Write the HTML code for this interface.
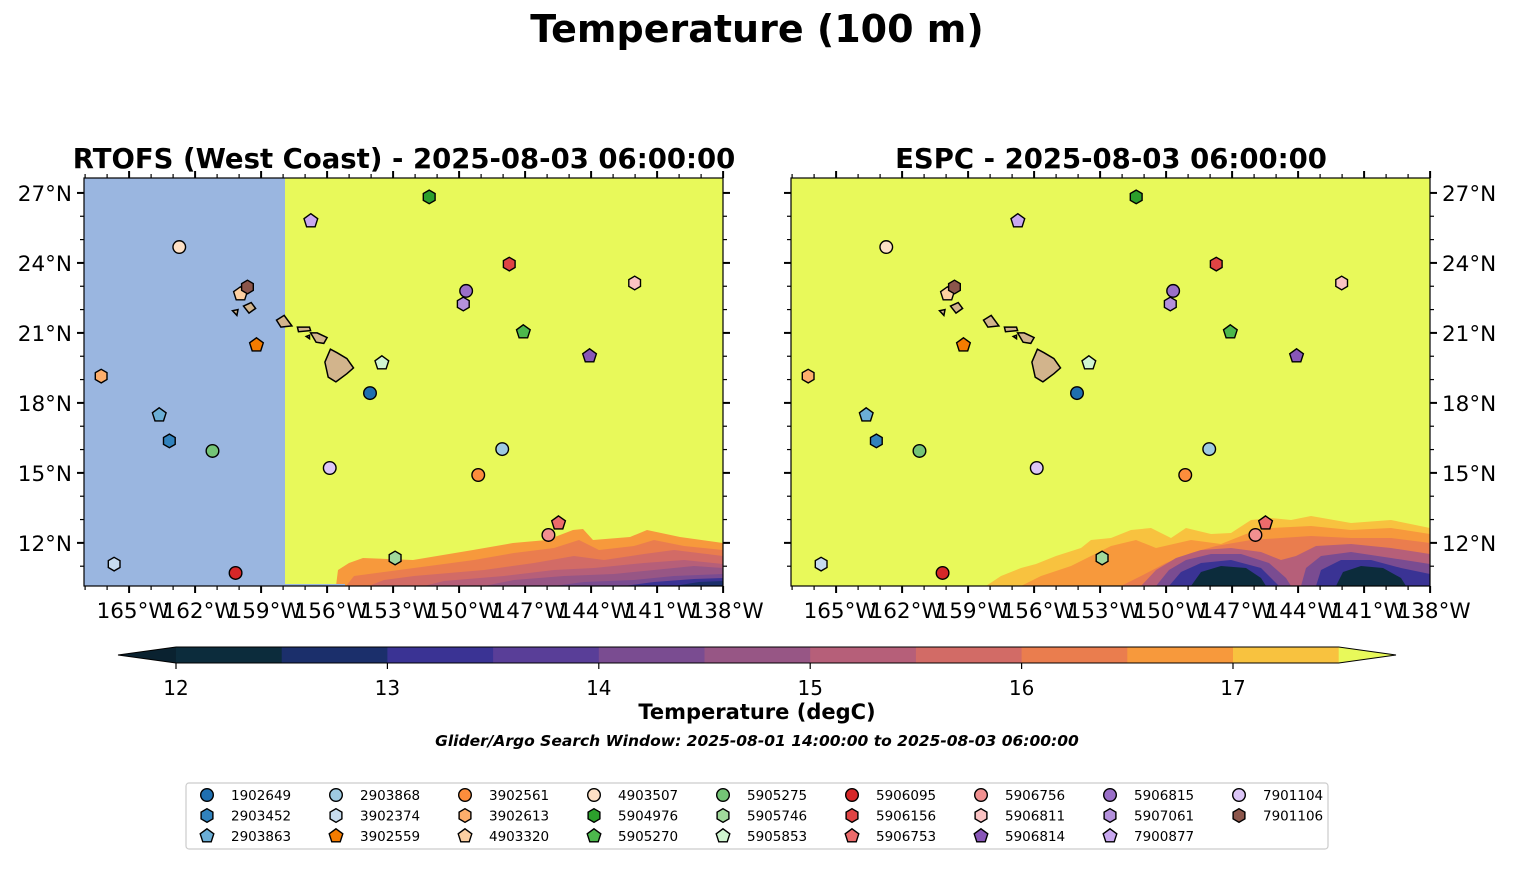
<!DOCTYPE html>
<html><head><meta charset="utf-8"><style>
body{margin:0;background:#fff;}
svg{display:block;font-family:"DejaVu Sans","Liberation Sans",sans-serif;}
</style></head><body>
<svg id="fig" width="1514" height="889" viewBox="0 0 1514 889" xmlns="http://www.w3.org/2000/svg">
<text x="757" y="42" text-anchor="middle" font-size="38" font-weight="bold">Temperature (100 m)</text>
<text x="404" y="168" text-anchor="middle" font-size="27.5" font-weight="bold">RTOFS (West Coast) - 2025-08-03 06:00:00</text>
<text x="1111" y="168" text-anchor="middle" font-size="27.5" font-weight="bold">ESPC - 2025-08-03 06:00:00</text>
<defs>
<clipPath id="clipL"><rect x="84" y="178" width="639" height="408"/></clipPath>
<clipPath id="clipR"><rect x="791" y="178" width="639" height="408"/></clipPath>
</defs>
<g id="mapL"></g>
<g id="mapR"></g>
<g id="cbar"></g>
<text x="757" y="719" text-anchor="middle" font-size="21" font-weight="bold">Temperature (degC)</text>
<text x="757" y="746" text-anchor="middle" font-size="15.5" font-weight="bold" font-style="italic">Glider/Argo Search Window: 2025-08-01 14:00:00 to 2025-08-03 06:00:00</text>
<rect x="186" y="783" width="1142" height="66" rx="3" fill="#fff" stroke="#ccc" stroke-width="1.2"/>
<g id="legend"></g>
</svg>
<script>
// ---- data ----
const floatIds = ["1902649","2903452","2903863","2903868","3902374","3902559","3902561","3902613","4903320","4903507","5904976","5905270","5905275","5905746","5905853","5906095","5906156","5906753","5906756","5906811","5906814","5906815","5907061","7900877","7901104","7901106"];
const floatColors = ["#1f6fb0","#3182bd","#6baed6","#9ecae1","#c6dbef","#f57c00","#fd8d3c","#fdae6b","#fdd0a2","#fde0c5","#2ca02c","#4cb84c","#74c476","#a1d99b","#d0f5d0","#d62728","#e04444","#ec6b6b","#f19090","#fbc3c3","#8856b8","#9a6fc8","#b491dc","#c9a8f0","#dcc6f7","#8c564b"];
const floatMarkers = ["o","h","p","o","h","p","o","h","p","o","h","p","o","h","p","o","h","p","o","h","p","o","h","p","o","h"];
const floatLons = [-154.05,-163.17,-163.63,-148.04,-165.68,-159.21,-149.13,-166.27,-159.94,-162.72,-151.36,-147.08,-161.21,-152.91,-153.51,-160.16,-147.72,-145.48,-145.94,-142.02,-144.07,-149.68,-149.81,-156.74,-155.88,-159.62];
const floatLats = [18.42,16.37,17.48,16.02,11.09,20.48,14.91,19.15,22.67,24.68,26.83,21.04,15.94,11.35,19.71,10.71,23.95,12.85,12.34,23.14,20.01,22.80,22.24,25.80,15.21,22.97];
const lonTicks = [-165,-162,-159,-156,-153,-150,-147,-144,-141,-138];
const latTicks = [12,15,18,21,24,27];
const cbarLevels = [12,12.5,13,13.5,14,14.5,15,15.5,16,16.5,17,17.5];
const cbarTicks = [12,13,14,15,16,17];
const cbarColors = ["#0c2c3c","#1b2f6b","#3a3394","#593e98","#7a4c91","#975685","#b65f79","#d26b66","#ea7d4e","#f7993c","#f8c23f"];
const colorUnder = "#0a2230", colorOver = "#e8f95a";
// ---- geometry ----
const NS="http://www.w3.org/2000/svg";
const LON0=-167.05, PXD=22.0, LAT0=27.64, PYD=23.33, MY=178, MH=408, MW=639;
function mk(tag,attrs,parent){const e=document.createElementNS(NS,tag);for(const k in attrs)e.setAttribute(k,attrs[k]);parent.appendChild(e);return e;}
function xs(ox){return lon=>ox+(lon-LON0)*PXD;}
function ys(lat){return MY+(LAT0-lat)*PYD;}
function fmtLon(l){return Math.abs(l)+"°W";}
function markerPath(type,cx,cy){
  const n=type==="h"?6:5, r=type==="h"?6.8:7.2, pts=[];
  for(let i=0;i<n;i++){const a=-Math.PI/2+i*2*Math.PI/n;pts.push((cx+r*Math.cos(a)).toFixed(1)+","+(cy+r*Math.sin(a)).toFixed(1));}
  return pts.join(" ");
}
function drawMarker(parent,type,cx,cy,color,name){
  let e;
  if(type==="o")e=mk('circle',{cx:cx,cy:cy,r:6.3,fill:color,stroke:"#000","stroke-width":1.4},parent);
  else e=mk('polygon',{points:markerPath(type,cx,cy),fill:color,stroke:"#000","stroke-width":1.4},parent);
  
  
}
const islands=[
 [[-155.85,20.3],[-155.55,20.15],[-155.1,19.9],[-154.8,19.5],[-155.1,19.25],[-155.6,18.9],[-155.95,19.1],[-156.1,19.75],[-155.85,20.3]],
 [[-156.75,21.0],[-156.45,21.0],[-156.0,20.8],[-156.15,20.55],[-156.5,20.6],[-156.75,21.0]],
 [[-157.35,21.25],[-156.8,21.25],[-156.75,21.1],[-157.3,21.05],[-157.35,21.25]],
 [[-158.3,21.55],[-157.95,21.75],[-157.6,21.3],[-158.1,21.25],[-158.3,21.55]],
 [[-159.8,22.15],[-159.45,22.3],[-159.25,22.05],[-159.55,21.85],[-159.8,22.15]],
 [[-160.3,21.95],[-160.05,22.0],[-160.1,21.75],[-160.3,21.95]],
 [[-156.95,20.85],[-156.8,20.9],[-156.8,20.75],[-156.95,20.85]]
];
const contoursL=[
 {c:9,p:"M252,408 L254,392 L265,385 L279,380 L329,382 L389,372 L429,365 L463,362 L489,352 L499,351 L509,362 L546,359 L563,352 L596,359 L639,365 L639,408 Z"},
 {c:8,p:"M262,408 L270,398 L300,394 L330,390 L390,382 L430,375 L470,370 L495,362 L515,372 L550,368 L570,362 L600,368 L639,372 L639,408 Z"},
 {c:7,p:"M285,408 L300,402 L330,398 L400,392 L450,385 L490,378 L520,382 L560,376 L590,372 L639,378 L639,408 Z"},
 {c:6,p:"M340,408 L360,403 L420,398 L470,392 L510,390 L560,385 L600,382 L639,386 L639,408 Z"},
 {c:5,p:"M400,408 L430,402 L480,398 L530,396 L570,392 L610,388 L639,390 L639,408 Z"},
 {c:4,p:"M470,408 L500,404 L550,402 L590,398 L639,396 L639,408 Z"},
 {c:2,p:"M540,408 L570,404 L610,401 L639,400 L639,408 Z"},
 {c:1,p:"M590,408 L615,404 L639,403 L639,408 Z"}
];
const contoursR=[
 {c:10,p:"M195,408 L210,398 L230,390 L245,386 L265,378 L290,370 L300,362 L320,360 L340,352 L360,350 L380,360 L395,350 L420,356 L440,355 L460,342 L480,340 L500,342 L520,338 L560,345 L600,342 L639,350 L639,408 Z"},
 {c:9,p:"M230,408 L250,398 L280,388 L300,378 L320,368 L345,362 L365,370 L400,362 L430,366 L455,356 L480,350 L520,348 L560,352 L600,350 L639,356 L639,408 Z"},
 {c:8,p:"M330,408 L350,398 L375,385 L400,375 L425,368 L460,362 L490,360 L520,358 L560,360 L600,360 L639,365 L639,408 Z"},
 {c:6,p:"M350,408 L365,392 L385,380 L410,372 L440,370 L470,374 L490,382 L505,378 L525,368 L560,366 L600,370 L639,376 L639,408 Z"},
 {c:4,p:"M365,408 L378,392 L395,382 L420,376 L450,376 L478,385 L495,400 L500,408 Z M510,408 L515,390 L530,378 L560,374 L600,380 L639,386 L639,408 Z"},
 {c:2,p:"M378,408 L390,394 L410,385 L440,382 L470,390 L488,408 Z M525,408 L530,392 L550,382 L580,382 L610,390 L639,396 L639,408 Z"},
 {c:0,p:"M400,408 L410,394 L430,388 L455,390 L470,400 L475,408 Z M545,408 L552,394 L570,388 L592,390 L610,400 L615,408 Z"}
];
function drawMap(g,ox,clipId,blue,contours,labelSide){
  const X=xs(ox);
  const inner=mk('g',{'clip-path':`url(#${clipId})`},g);
  const bg=mk('rect',{x:ox,y:MY,width:MW,height:MH,fill:colorOver},inner);
  
  
  const cg=mk('g',{transform:`translate(${ox},${MY})`},inner);
  contours.forEach(c=>{const p=mk('path',{d:c.p,fill:cbarColors[c.c]},cg);
    
    });
  if(blue){const b=mk('rect',{x:ox,y:MY,width:201,height:MH,fill:"#9ab6e0"},inner);
    
    
    mk('rect',{x:ox+201,y:MY+MH-2,width:60,height:2,fill:"#9ab6e0"},inner);}
  islands.forEach(isl=>{const pts=isl.map(p=>X(p[0]).toFixed(1)+","+ys(p[1]).toFixed(1)).join(" ");
    const e=mk('polygon',{points:pts,fill:"#d2b48c",stroke:"#000","stroke-width":1.5},inner);
    
    });
  for(let i=0;i<floatIds.length;i++) drawMarker(inner,floatMarkers[i],X(floatLons[i]),ys(floatLats[i]),floatColors[i],'float-'+floatIds[i]);
  mk('rect',{x:ox,y:MY,width:MW,height:MH,fill:"none",stroke:"#000","stroke-width":1.2},g);
  for(let l=-167;l<=-138;l++){const x=X(l);if(x<ox-0.5||x>ox+MW+0.5)continue;
    const major=lonTicks.includes(l);
    mk('line',{x1:x,y1:MY+MH,x2:x,y2:MY+MH+(major?7:4),stroke:"#000","stroke-width":major?2:1.2},g);
    mk('line',{x1:x,y1:MY,x2:x,y2:MY-(major?7:4),stroke:"#000","stroke-width":major?2:1.2},g);}
  lonTicks.forEach(l=>{const t=mk('text',{x:X(l)+4,y:MY+MH+32,'text-anchor':'middle','font-size':21.5},g);t.textContent=fmtLon(l);
    
    });
  for(let la=11;la<=27;la++){const y=ys(la);const major=latTicks.includes(la);
    mk('line',{x1:ox,y1:y,x2:ox-(major?7:4),y2:y,stroke:"#000","stroke-width":major?2:1.2},g);
    mk('line',{x1:ox+MW,y1:y,x2:ox+MW+(major?7:4),y2:y,stroke:"#000","stroke-width":major?2:1.2},g);}
  latTicks.forEach(la=>{const left=labelSide==="left";
    const t=mk('text',{x:left?ox-12:ox+MW+12,y:ys(la)+8,'text-anchor':left?'end':'start','font-size':21.5},g);t.textContent=la+"°N";
    
    });
}
drawMap(document.getElementById('mapL'),84,'clipL',true,contoursL,'left');
drawMap(document.getElementById('mapR'),791,'clipR',false,contoursR,'right');
// colorbar
const cb=document.getElementById('cbar');
const CB0=176, CBS=211.4, CBY=647, CBH=16;
const cx=v=>CB0+(v-12)*CBS;
mk('polygon',{points:`${CB0},${CBY} ${CB0},${CBY+CBH} 118,${CBY+CBH/2}`,fill:colorUnder},cb);
for(let i=0;i<cbarColors.length;i++){
  const r=mk('rect',{x:cx(cbarLevels[i]),y:CBY,width:cx(cbarLevels[i+1])-cx(cbarLevels[i])+0.5,height:CBH,fill:cbarColors[i]},cb);
  
  
}
const xe=cx(17.5);
mk('polygon',{points:`${xe},${CBY} ${xe},${CBY+CBH} 1396,${CBY+CBH/2}`,fill:colorOver},cb);
mk('polyline',{points:`${CB0},${CBY} 118,${CBY+CBH/2} ${CB0},${CBY+CBH} ${xe},${CBY+CBH} 1396,${CBY+CBH/2} ${xe},${CBY} ${CB0},${CBY}`,fill:"none",stroke:"#000","stroke-width":1},cb);
cbarTicks.forEach(v=>{mk('line',{x1:cx(v),y1:CBY+CBH,x2:cx(v),y2:CBY+CBH+6,stroke:"#000","stroke-width":1.2},cb);
  const t=mk('text',{x:cx(v),y:CBY+CBH+32,'text-anchor':'middle','font-size':20},cb);t.textContent=v;
  
  });
// legend
const lg=document.getElementById('legend');
for(let i=0;i<floatIds.length;i++){
  const col=Math.floor(i/3), row=i%3;
  const mx=207+col*129, my=795+row*20.5;
  drawMarker(lg,floatMarkers[i],mx,my,floatColors[i],'legend-marker-'+floatIds[i]);
  const t=mk('text',{x:mx+24,y:my+5,'font-size':13.5},lg);t.textContent=floatIds[i];
  
  
}
</script>
</body></html>
